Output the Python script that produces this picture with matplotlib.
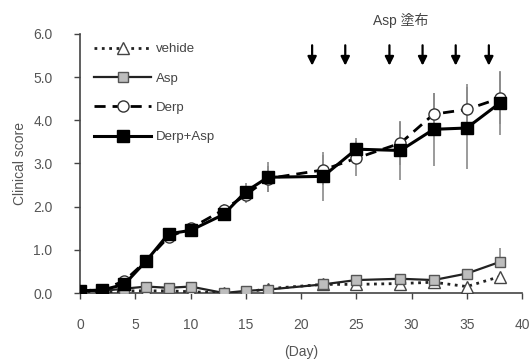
import matplotlib
matplotlib.use("Agg")
import matplotlib.pyplot as plt

plt.rcParams['font.family'] = ['Liberation Sans', 'Noto Sans CJK JP', 'DejaVu Sans']

# data
days = [0, 2, 4, 6, 8, 10, 13, 15, 17, 22, 25, 29, 32, 35, 38]
vehicle = [0.0, 0.0, 0.05, 0.05, 0.05, 0.03, 0.0, 0.02, 0.1, 0.2, 0.2, 0.22, 0.25, 0.15, 0.38]
asp = [0.05, 0.05, 0.1, 0.15, 0.12, 0.15, 0.0, 0.05, 0.08, 0.2, 0.3, 0.33, 0.3, 0.45, 0.72]
asp_err = [0.03, 0.03, 0.05, 0.05, 0.05, 0.05, 0.03, 0.05, 0.05, 0.08, 0.08, 0.1, 0.08, 0.1, 0.33]
derp = [0.05, 0.08, 0.28, 0.75, 1.3, 1.5, 1.93, 2.27, 2.65, 2.85, 3.12, 3.47, 4.14, 4.25, 4.51]
derp_err = [0.03, 0.05, 0.08, 0.08, 0.1, 0.1, 0.12, 0.18, 0.3, 0.35, 0.4, 0.5, 0.5, 0.6, 0.6]
derp_asp = [0.05, 0.07, 0.2, 0.75, 1.37, 1.45, 1.82, 2.35, 2.68, 2.7, 3.33, 3.3, 3.79, 3.82, 4.4]
derp_asp_err = [0.05, 0.05, 0.1, 0.05, 0.08, 0.08, 0.15, 0.2, 0.35, 0.57, 0.25, 0.68, 0.85, 0.95, 0.75]
arrow_days = [21, 24, 28, 31, 34, 37]

fig = plt.figure(figsize=(5.31, 3.64), dpi=100)
ax = fig.add_axes([0.151, 0.195, 0.832, 0.712])

ecol = '#8a8a8a'

ax.errorbar(days, vehicle, fmt='none', ecolor=ecol, elinewidth=1.2, capsize=0)
ax.plot(days, vehicle, linestyle=':', color='#222222', linewidth=2, marker='^',
        markersize=8, markerfacecolor='white', markeredgecolor='#444444', label='vehide', zorder=3)

ax.errorbar(days, asp, yerr=[[0] * len(asp), asp_err], fmt='none', ecolor=ecol, elinewidth=1.2, capsize=0)
ax.plot(days, asp, linestyle='-', color='#222222', linewidth=1.6, marker='s',
        markersize=7.5, markerfacecolor='#bdbdbd', markeredgecolor='#555555', label='Asp', zorder=4)

ax.errorbar(days, derp, yerr=derp_err, fmt='none', ecolor=ecol, elinewidth=1.2, capsize=0)
ax.plot(days, derp, linestyle=(0, (4, 2.5)), color='black', linewidth=2, marker='o',
        markersize=8, markerfacecolor='white', markeredgecolor='#333333', label='Derp', zorder=5)

ax.errorbar(days, derp_asp, yerr=derp_asp_err, fmt='none', ecolor=ecol, elinewidth=1.2, capsize=0)
ax.plot(days, derp_asp, linestyle='-', color='black', linewidth=2.2, marker='s',
        markersize=8, markerfacecolor='black', markeredgecolor='black', label='Derp+Asp', zorder=6)

# application arrows
for d in arrow_days:
    ax.annotate('', xy=(d, 5.2), xytext=(d, 5.8),
                arrowprops=dict(arrowstyle='-|>', color='black', lw=1.6, mutation_scale=13),
                annotation_clip=False)
ax.text(29, 6.3, 'Asp 塗布', ha='center', va='center', fontsize=10, color='#444444')

ax.set_xlim(0, 40)
ax.set_ylim(0, 6)
ax.set_xticks(range(0, 41, 5))
ax.set_yticks([0, 1, 2, 3, 4, 5, 6])
ax.set_yticklabels(['0.0', '1.0', '2.0', '3.0', '4.0', '5.0', '6.0'])
ax.tick_params(colors='#444444', labelcolor='#555555', labelsize=10, length=4, width=1)
ax.tick_params(axis='x', pad=14)
ax.tick_params(axis='y', pad=16)
for s in ['top', 'right']:
    ax.spines[s].set_visible(False)
for s in ['left', 'bottom']:
    ax.spines[s].set_color('#444444')
    ax.spines[s].set_linewidth(1.2)
ax.spines['bottom'].set_bounds(0, 40)

ax.set_ylabel('Clinical score', fontsize=10, color='#555555', labelpad=4)
ax.set_xlabel('(Day)', fontsize=10, color='#555555', labelpad=9)

leg = ax.legend(loc='upper left', bbox_to_anchor=(0.014, 0.995), frameon=False, fontsize=9.5,
                handlelength=4.3, labelspacing=1.3, handletextpad=0.4, borderaxespad=0.2)
for t in leg.get_texts():
    t.set_color('#444444')

fig.savefig('out.png', dpi=100)
